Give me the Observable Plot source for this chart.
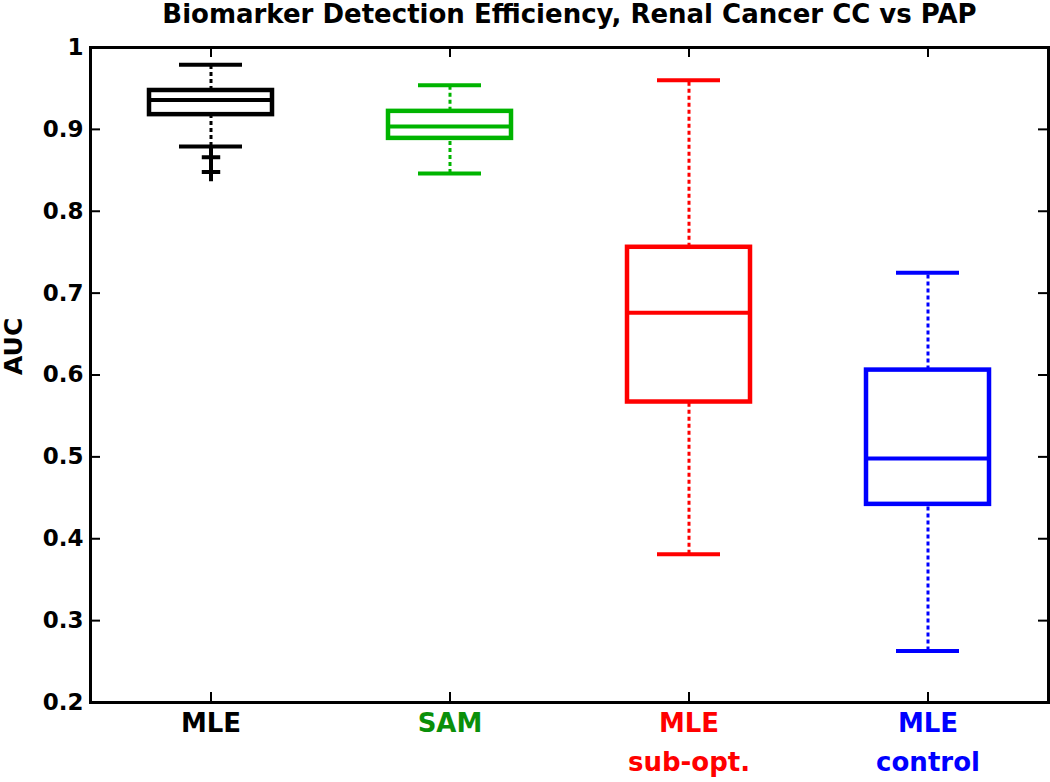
<!DOCTYPE html>
<html><head><meta charset="utf-8">
<script src="https://cdn.jsdelivr.net/npm/d3@7"></script>
<script src="https://cdn.jsdelivr.net/npm/@observablehq/plot@0.6"></script>
<style>body{margin:0;background:#fff}</style>
</head><body><div id="chart"></div>
<script>
const title = "Biomarker Detection Efficiency, Renal Cancer CC vs PAP";
const yLabel = "AUC";
const categories = ["MLE", "SAM", "MLE sub-opt.", "MLE control"];
const tickLabels = ["MLE", "SAM", "MLE\nsub-opt.", "MLE\ncontrol"];
const lowerWhisker = [0.879, 0.846, 0.381, 0.263];
const q1 = [0.918, 0.889, 0.567, 0.442];
const median = [0.936, 0.9035, 0.676, 0.498];
const q3 = [0.9475, 0.922, 0.756, 0.606];
const upperWhisker = [0.979, 0.954, 0.960, 0.725];
const outlierCategory = ["MLE", "MLE"];
const outlierValues = [0.866, 0.848];
const boxColors = ["#000000", "#00b400", "#ff0000", "#0000ff"];
const labelColors = ["#000000", "#0a8f0a", "#ff0000", "#0000ff"];
const yTicks = [0.2, 0.3, 0.4, 0.5, 0.6, 0.7, 0.8, 0.9, 1];

const rows = categories.map((c, i) => ({
  cat: c, label: tickLabels[i], lo: lowerWhisker[i], q1: q1[i], med: median[i],
  q3: q3[i], hi: upperWhisker[i], color: boxColors[i], labelColor: labelColors[i]
}));
const outliers = outlierCategory.map((c, i) => ({cat: c, v: outlierValues[i]}));

const W = 1050, H = 782, mL = 90, mR = 2, mT = 47, mB = 80;
const fw = W - mL - mR, fh = H - mT - mB, tl = 10;

const chart = Plot.plot({
  width: W, height: H,
  marginLeft: mL, marginRight: mR, marginTop: mT, marginBottom: mB,
  style: {fontFamily: "'DejaVu Sans', sans-serif", fontWeight: "bold", background: "#fff"},
  x: {type: "band", domain: categories, padding: 0, axis: null},
  y: {domain: [0.2, 1], axis: null},
  color: {type: "identity"},
  marks: [
    Plot.ruleX(rows, {x: "cat", y1: "q3", y2: "hi", stroke: "color", strokeWidth: 3, strokeDasharray: "4,3"}),
    Plot.ruleX(rows, {x: "cat", y1: "lo", y2: "q1", stroke: "color", strokeWidth: 3, strokeDasharray: "4,3"}),
    Plot.tickY(rows, {x: "cat", y: "hi", stroke: "color", strokeWidth: 4, insetLeft: 88, insetRight: 88}),
    Plot.tickY(rows, {x: "cat", y: "lo", stroke: "color", strokeWidth: 4, insetLeft: 88, insetRight: 88}),
    Plot.barY(rows, {x: "cat", y1: "q1", y2: "q3", fill: "none", stroke: "color", strokeWidth: 4.5, insetLeft: 58, insetRight: 58}),
    Plot.tickY(rows, {x: "cat", y: "med", stroke: "color", strokeWidth: 4, insetLeft: 58, insetRight: 58}),
    Plot.dot(outliers, {x: "cat", y: "v", symbol: "plus", r: 6, stroke: "#000", strokeWidth: 4}),
    Plot.ruleY(yTicks, {y: d => d, stroke: "#000", strokeWidth: 2, insetRight: fw - tl}),
    Plot.ruleY(yTicks, {y: d => d, stroke: "#000", strokeWidth: 2, insetLeft: fw - tl}),
    Plot.ruleX(categories, {x: d => d, stroke: "#000", strokeWidth: 2, insetTop: fh - tl}),
    Plot.ruleX(categories, {x: d => d, stroke: "#000", strokeWidth: 2, insetBottom: fh - tl}),
    Plot.frame({stroke: "#000", strokeWidth: 3}),
    Plot.axisY({ticks: yTicks, tickSize: 0, tickPadding: 7, fontSize: 23, fontWeight: "bold",
      tickFormat: d => d === 1 ? "1" : d.toFixed(1), label: null}),
    Plot.text(rows, {x: "cat", text: "label", fill: "labelColor", frameAnchor: "bottom",
      lineAnchor: "top", dy: 2, fontSize: 26, lineHeight: 1.5}),
    Plot.text([title], {frameAnchor: "top", lineAnchor: "middle", dy: -33, fontSize: 26, fill: "#000"}),
    Plot.text([yLabel], {frameAnchor: "left", dx: -77, rotate: -90, fontSize: 25, fill: "#000"})
  ]
});
document.getElementById("chart").appendChild(chart);
</script>
</body></html>
